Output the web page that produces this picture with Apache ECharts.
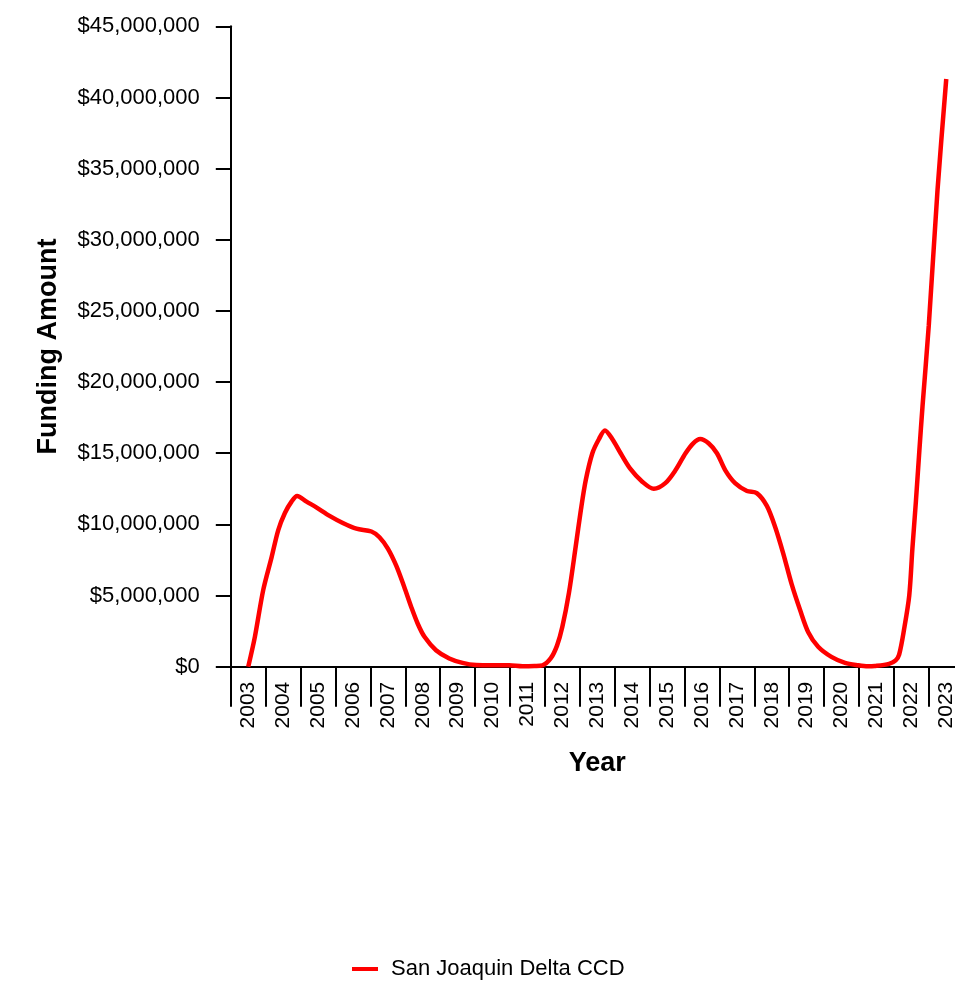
<!DOCTYPE html>
<html>
<head>
<meta charset="utf-8">
<script src="https://cdn.jsdelivr.net/npm/echarts@6/dist/echarts.min.js"></script>
<style>
html,body{margin:0;padding:0;background:#fff;}
#chart{width:955px;height:997px;}
</style>
</head>
<body>
<div id="chart"></div>
<script>
// Category tick labels
const years = ['2003','2004','2005','2006','2007','2008','2009','2010','2011','2012','2013','2014','2015','2016','2017','2018','2019','2020','2021','2022','2023'];
// Sample positions (fractional years)
const sampleYears = [
  2003.00, 2003.19, 2003.43, 2003.67, 2003.86, 2004.05, 2004.24, 2004.40, 2004.67, 2004.95,
  2005.33, 2005.71, 2006.10, 2006.53, 2006.76, 2007.00, 2007.24, 2007.47, 2007.67, 2007.86,
  2008.05, 2008.38, 2008.76, 2009.14, 2009.53, 2010.00, 2010.48, 2010.86, 2011.20, 2011.43,
  2011.67, 2011.85, 2012.00, 2012.19, 2012.38, 2012.53, 2012.67, 2012.86, 2013.05, 2013.22,
  2013.43, 2013.67, 2013.95, 2014.29, 2014.62, 2014.95, 2015.24, 2015.53, 2015.75, 2015.95,
  2016.19, 2016.43, 2016.67, 2016.95, 2017.29, 2017.57, 2017.86, 2018.10, 2018.33, 2018.57,
  2018.81, 2019.05, 2019.33, 2019.71, 2020.10, 2020.48, 2020.75, 2020.95, 2021.36, 2021.55,
  2021.65, 2021.79, 2021.94, 2022.03, 2022.13, 2022.23, 2022.32, 2022.50, 2022.75, 2023.00
];
// Funding amounts (USD) at those positions
const funding = [
  0, 2100000, 5400000, 7700000, 9600000, 10800000, 11600000, 12000000, 11600000, 11200000,
  10600000, 10100000, 9700000, 9500000, 9100000, 8300000, 7100000, 5600000, 4200000, 3000000,
  2100000, 1160000, 580000, 270000, 120000, 100000, 100000, 30000, 50000, 100000,
  600000, 1500000, 2800000, 5200000, 8400000, 11000000, 13100000, 15000000, 16000000, 16600000,
  16000000, 15000000, 13900000, 13000000, 12500000, 12900000, 13800000, 15000000, 15700000, 16000000,
  15700000, 15000000, 13800000, 12900000, 12350000, 12200000, 11300000, 9800000, 7950000, 5800000,
  4000000, 2400000, 1400000, 690000, 270000, 100000, 30000, 50000, 200000, 450000,
  850000, 2600000, 5000000, 8300000, 11600000, 15200000, 18300000, 24000000, 33500000, 41300000
];
const seriesName = 'San Joaquin Delta CCD';

const points = sampleYears.map((y, i) => [y, funding[i]]);

const chart = echarts.init(document.getElementById('chart'));
const fmt = v => '$' + Math.round(v).toString().replace(/\B(?=(\d{3})+(?!\d))/g, ',');
chart.setOption({
  animation: false,
  backgroundColor: '#ffffff',
  textStyle: {fontFamily: 'Liberation Sans, Arial, sans-serif'},
  grid: {left: 230.8, top: 26.3, width: 732.9, height: 640.4, containLabel: false, outerBoundsMode: 'none'},
  legend: {
    data: [{name: seriesName, icon: 'rect'}],
    left: 347, top: 953,
    itemWidth: 26, itemHeight: 4,
    textStyle: {fontSize: 22, color: '#000', padding: [0, 0, 0, 8], fontFamily: 'Liberation Sans, Arial, sans-serif'}
  },
  xAxis: [{
    type: 'category',
    data: years,
    boundaryGap: true,
    name: 'Year',
    nameLocation: 'middle',
    nameGap: 83,
    nameTextStyle: {fontSize: 27, fontWeight: 'bold', color: '#000'},
    axisLine: {lineStyle: {color: '#000', width: 2}},
    axisTick: {show: true, length: 40, lineStyle: {color: '#000', width: 2}, alignWithLabel: false},
    axisLabel: {rotate: 90, fontSize: 21, color: '#000', margin: 15, interval: 0},
    splitLine: {show: false}
  }, {
    type: 'value',
    min: 2002.5, max: 2023.5,
    show: false,
    splitLine: {show: false}
  }],
  yAxis: {
    type: 'value',
    min: 0, max: 45000000, interval: 5000000,
    name: 'Funding Amount',
    nameLocation: 'middle',
    nameGap: 169,
    nameRotate: 90,
    nameTextStyle: {fontSize: 27, fontWeight: 'bold', color: '#000'},
    axisLine: {show: true, lineStyle: {color: '#000', width: 2}},
    axisTick: {show: true, length: 15, lineStyle: {color: '#000', width: 2}},
    axisLabel: {fontSize: 22, color: '#000', margin: 31, formatter: fmt},
    splitLine: {show: false}
  },
  series: [{
    name: seriesName,
    type: 'line',
    xAxisIndex: 1,
    data: points,
    smooth: 0.3,
    showSymbol: false,
    symbol: 'none',
    color: '#ff0000',
    lineStyle: {color: '#ff0000', width: 4.5}
  }]
});
</script>
</body>
</html>
